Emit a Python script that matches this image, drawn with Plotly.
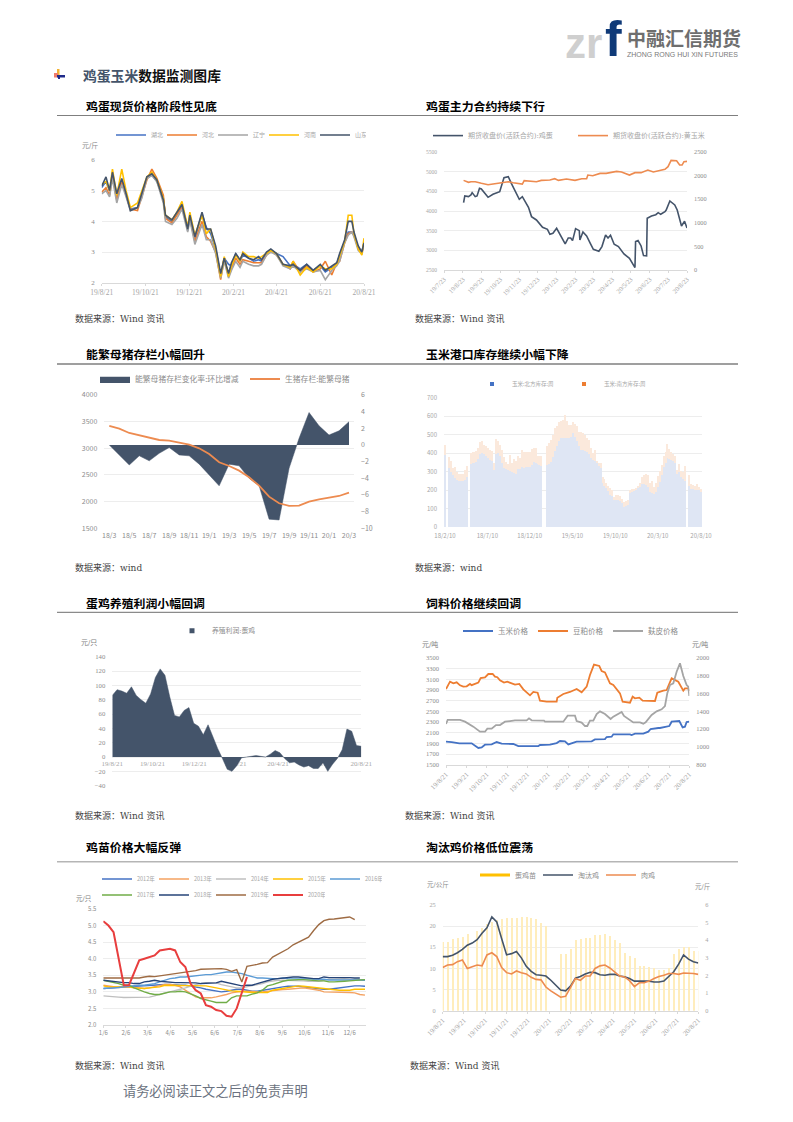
import plotly.graph_objects as go

W, H = 793, 1122
def fx(x): return x / W
def fy(y): return 1 - y / H

# ---------- chart 1: spot egg prices ----------
c1_days = [0,6,11,15,21,28,34,40,50,56,63,70,77,86,89,98,105,112,120,123,130,140,146,152,159,166,171,177,181,187,193,197,205,212,219,223,230,236,244,253,263,267,277,286,295,305,312,321,328,332,339,344,349,352,358,363,366]
c1_ticks = [0,61,122,184,244,305,366]
c1_labels = ["19/8/21","19/10/21","19/12/21","20/2/21","20/4/21","20/6/21","20/8/21"]
c1_hubei = [5.1,5.3,5.0,5.5,4.8,5.35,4.85,4.4,4.45,4.9,5.4,5.5,5.3,4.75,4.15,4.0,4.25,4.5,3.7,4.15,3.45,4.25,3.8,3.6,3.1,2.25,2.8,2.6,2.55,2.95,2.7,2.9,2.8,2.7,2.75,2.7,2.95,3.05,2.95,2.85,2.55,2.6,2.45,2.6,2.4,2.55,2.35,2.5,2.6,2.9,3.35,3.65,3.65,3.55,3.15,3.0,3.3]
c1_hebei = [4.95,5.1,4.85,5.5,4.7,5.3,4.85,4.4,4.35,4.85,5.35,5.7,5.4,4.85,4.1,3.95,4.2,4.45,3.85,4.1,3.35,4.0,3.5,3.35,3.0,2.1,2.8,2.2,2.45,2.8,2.6,2.75,2.7,2.65,2.65,2.65,2.9,3.05,2.9,2.6,2.45,2.7,2.35,2.55,2.35,2.45,2.7,2.25,2.65,2.7,3.3,3.6,3.65,3.55,3.1,2.95,3.3]
c1_liaoning = [4.9,5.0,4.8,5.4,4.6,5.2,4.8,4.35,4.45,4.75,5.4,5.5,5.3,4.6,4.0,3.9,4.1,4.4,3.65,4.05,3.25,3.9,3.4,3.4,2.95,2.15,2.7,2.15,2.4,2.7,2.5,2.7,2.6,2.55,2.55,2.6,2.9,3.0,2.9,2.55,2.45,2.55,2.35,2.45,2.35,2.4,2.1,2.4,2.55,2.7,3.3,3.55,3.65,3.5,3.05,2.95,3.25]
c1_henan = [5.2,5.3,5.0,5.7,4.85,5.7,5.0,4.45,4.6,5.0,5.45,5.6,5.35,4.75,4.2,4.05,4.3,4.65,3.8,4.3,3.55,4.2,3.6,3.75,3.1,2.2,2.85,2.2,2.55,2.9,2.7,3.0,2.85,2.85,2.8,2.85,2.95,3.05,2.95,2.6,2.5,2.7,2.25,2.5,2.35,2.55,2.45,2.45,2.6,2.9,3.35,4.2,4.2,3.6,3.1,2.9,3.45]
c1_shandong = [5.15,5.45,5.0,5.6,4.9,5.4,4.9,4.35,4.45,4.9,5.45,5.55,5.35,4.7,4.2,4.05,4.3,4.55,3.75,4.2,3.5,4.3,3.75,3.75,3.2,2.3,2.8,2.3,2.65,2.95,2.75,2.95,2.8,2.75,2.85,2.75,3.0,3.1,2.95,2.6,2.55,2.6,2.4,2.6,2.4,2.6,2.4,2.55,2.65,2.95,3.4,4.0,4.0,3.65,3.2,3.0,3.3]

# ---------- chart 2: futures ----------
c2_egg_days = [32,34,40,44,46,51,54,58,61,67,72,80,86,91,98,105,110,116,123,128,138,143,151,161,169,173,178,184,195,198,203,207,210,215,221,222,227,233,239,244,253,258,264,268,272,278,285,294,303,312,313,317,322,326,331,332,339,346,350,354,361,363,369,377,381,388,393,397]
c2_egg = [4213,4382,4365,4407,4467,4365,4382,4577,4560,4450,4348,4424,4467,4492,4848,4873,4704,4517,4297,4365,4094,3857,3772,3586,3535,3408,3433,3560,3247,3162,3315,3315,3247,3552,3501,3264,3467,3365,3179,3027,2976,3095,3391,3315,3382,3154,3095,2908,2798,2561,3222,3247,3111,2866,2857,3814,3873,3907,3958,3916,3984,4026,4255,4153,4026,3620,3738,3569]
c2_corn_days = [32,40,44,51,61,72,83,97,105,113,121,128,131,143,151,159,173,181,187,200,214,225,233,235,243,255,265,282,290,303,312,322,333,342,352,361,366,371,380,385,389,392,397]
c2_corn = [1899,1857,1871,1871,1836,1807,1829,1864,1871,1850,1836,1821,1892,1885,1871,1899,1906,1934,1899,1927,1899,1934,1934,2012,1998,2047,2047,2090,2076,2012,2062,2062,2118,2076,2104,2132,2189,2323,2316,2224,2224,2295,2302]
c2_ticks = [0,31,62,92,123,153,184,215,244,275,305,336,366,397]
c2_labels = ["19/7/23","19/8/23","19/9/23","19/10/23","19/11/23","19/12/23","20/1/23","20/2/23","20/3/23","20/4/23","20/5/23","20/6/23","20/7/23","20/8/23"]

# ---------- chart 3: sows ----------
c3_months = ["18/3","18/4","18/5","18/6","18/7","18/8","18/9","18/10","18/11","18/12","19/1","19/2","19/3","19/4","19/5","19/6","19/7","19/8","19/9","19/10","19/11","19/12","20/1","20/2","20/3"]
c3_change = [0,-1.2,-2.4,-1.3,-1.9,-1.0,-0.3,-1.2,-1.3,-2.3,-3.6,-4.9,-2.3,-2.5,-4.0,-4.9,-8.9,-9.0,-2.8,0.8,3.9,2.3,1.2,1.7,2.8]
c3_stock = [3419,3369,3288,3244,3188,3156,3144,3106,3069,3000,2894,2738,2669,2581,2456,2300,2094,1969,1919,1925,2000,2044,2069,2106,2169]

# ---------- chart 4: corn port stocks (weekly) ----------
c4_total = [445,0,378,358,322,328,300,290,288,288,310,330,0,400,408,405,412,430,462,465,445,440,430,420,410,345,478,465,445,415,380,355,340,390,350,370,360,385,375,415,405,405,405,408,425,430,430,385,385,385,0,0,440,455,470,500,535,545,570,575,580,605,575,555,555,570,560,545,515,515,510,500,480,470,430,400,420,360,345,345,270,260,240,225,210,200,165,175,175,170,155,135,140,145,200,205,205,210,225,240,270,285,290,285,240,250,215,240,275,305,335,385,405,450,425,405,395,385,310,340,305,300,330,0,280,235,230,225,235,220,205]
c4_north = [390,0,320,300,285,265,255,248,248,252,258,272,0,340,345,350,355,370,395,400,395,385,375,365,360,310,395,400,385,345,320,315,310,305,300,295,290,315,315,325,320,325,325,325,335,355,350,340,335,330,0,0,335,340,355,380,410,440,465,480,485,485,485,485,490,510,490,465,440,420,415,410,405,395,375,365,360,350,335,320,240,225,210,195,175,170,150,150,150,140,130,110,115,120,185,195,200,205,210,220,235,235,230,215,190,185,180,190,215,245,285,325,350,375,370,365,360,350,290,300,270,260,250,0,225,205,205,200,200,200,195]
c4_south = [t - n for t, n in zip(c4_total, c4_north)]
c4_ticks = [0,21.5,43,64.7,86.5,108,130]
c4_labels = ["18/2/10","18/7/10","18/12/10","19/5/10","19/10/10","20/3/10","20/8/10"]

# ---------- chart 5: layer profit (weekly) ----------
c5_profit = [86,94,92,89,98,86,80,75,88,111,123,114,84,58,56,65,69,47,43,31,45,28,12,-2,-17,-20,-12,-1,0,2,2,1,0,4,9,6,-2,-8,-7,-11,-14,-12,-16,-16,-8,-20,-10,-2,10,39,36,16,15]
c5_ticks = [0,8.4,17.1,25.8,34.6,43.4,52]
c5_labels = c1_labels

# ---------- chart 6: feed ----------
c6_corn_days = [0,8.5,20,38.5,48.5,53.5,58.5,68.5,76,83.5,101,108.5,138.5,141,156,166,171,178.5,183.5,196,218.5,223.5,238.5,241,248.5,251,276,278.5,283.5,296,303.5,307,318.5,321,335,338.5,350,355,358.5,361,365]
c6_corn = [1931,1925,1900,1900,1813,1825,1875,1881,1925,1894,1888,1850,1850,1869,1875,1906,1944,1938,1881,1931,1938,1975,1981,2019,2025,2069,2069,2056,2081,2081,2119,2169,2188,2188,2225,2306,2319,2200,2213,2300,2306]
c6_soy_days = [0,6,11,16,21,26,31,36,38.5,48.5,52,58.5,63.5,70,73.5,77,81,87,92,103.5,110,116,126,131,137.5,141,151,166,167,176,186,196,203.5,211,216,222,230,233.5,238.5,246,251,261,265,276,280,283.5,290,295,313.5,317,326,331,338.5,348.5,356,358.5,363.5,365]
c6_soy = [2919,3056,3025,3044,2988,2963,2969,3013,2990,3038,3125,3138,3200,3200,3150,3140,3081,3038,3056,3000,3013,2913,2800,2863,2850,2700,2681,2681,2756,2825,2863,2919,2856,2963,3181,3375,3350,3256,3231,3025,2994,2838,2681,2663,2775,2744,2756,2700,2694,2850,2888,2900,3119,3056,2888,2931,2931,2881]
c6_bran_days = [0,2.5,21,28.5,41,51,58.5,62,68.5,75,81,88.5,96,103.5,121,124.5,128.5,147,148.5,176,182.5,193.5,196,203.5,208.5,212,216,221,226,231,238.5,247,251,263.5,267,281,291,296,299.5,308.5,316,323.5,328.5,332,336,341,346,351,356,361,363.5,365]
c6_bran = [1258,1303,1303,1284,1228,1171,1171,1205,1205,1246,1246,1284,1291,1299,1299,1321,1299,1295,1284,1284,1351,1351,1291,1273,1235,1235,1295,1295,1370,1400,1370,1314,1340,1393,1348,1276,1276,1261,1276,1359,1400,1423,1460,1603,1696,1715,1846,1940,1798,1696,1678,1573]
c6_ticks = [0,31,61,92,122,153,184,214,243,274,304,335,365]
c6_labels = ["19/8/21","19/9/21","19/10/21","19/11/21","19/12/21","20/1/21","20/2/21","20/3/21","20/4/21","20/5/21","20/6/21","20/7/21","20/8/21"]

# ---------- chart 7: chick prices by year (weekly) ----------
c7_ticks = [0,4.4,8.6,13,17.4,21.7,26.1,30.5,34.9,39.2,43.8,48]
c7_labels = ["1/6","2/6","3/6","4/6","5/6","6/6","7/6","8/6","9/6","10/6","11/6","12/6"]
c7_2012 = [3.1,3.1,3.12,3.14,3.15,3.17,3.18,3.18,3.18,3.2,3.2,3.22,3.22,3.22,3.2,3.2,3.2,3.18,3.15,3.12,3.08,3.05,3.02,3.0,3.02,3.05,3.08,3.08,3.05,3.02,3.02,3.05,3.08,3.1,3.12,3.15,3.17,3.18,3.17,3.15,3.13,3.12,3.1,3.08,3.08,3.1,3.12,3.15,3.17,3.18,3.18,3.17]
c7_2013 = [3.2,3.18,3.15,3.13,3.15,3.15,3.13,3.12,3.1,3.12,3.15,3.2,3.22,3.22,3.2,3.15,3.05,2.95,2.85,2.82,2.82,2.82,2.85,2.88,2.92,2.97,3.0,3.02,3.02,3.0,3.0,3.0,3.02,3.05,3.07,3.07,3.08,3.1,3.1,3.12,3.1,3.08,3.05,3.0,3.0,2.99,2.98,2.98,2.98,2.97,2.92,2.9]
c7_2014 = [2.88,2.86,2.84,2.84,2.83,2.83,2.82,2.82,2.82,2.84,2.88,2.93,2.97,3.0,3.03,3.08,3.12,3.18,3.22,3.25,3.28,3.28,3.27,3.22,3.18,3.15,3.12,3.12,3.15,3.18,3.2,3.25,3.3,3.33,3.35,3.35,3.35,3.35,3.35,3.33,3.32,3.32,3.32,3.35,3.38,3.38,3.4,3.4,3.38,3.38,3.37,3.35]
c7_2015 = [3.18,3.15,3.15,3.15,3.15,3.15,3.12,3.1,3.1,3.12,3.13,3.15,3.2,3.2,3.2,3.2,3.18,3.18,3.2,3.2,3.18,3.15,3.12,3.08,3.05,3.03,3.02,3.0,3.0,2.98,2.98,2.98,2.98,3.05,3.08,3.1,3.12,3.15,3.18,3.17,3.15,3.15,3.13,3.1,3.08,3.05,3.05,3.05,3.05,3.08,3.08,3.08]
c7_2016 = [3.1,3.1,3.12,3.13,3.15,3.17,3.18,3.2,3.2,3.22,3.25,3.3,3.35,3.4,3.42,3.45,3.45,3.47,3.5,3.52,3.52,3.52,3.55,3.57,3.6,3.6,3.58,3.55,3.5,3.45,3.42,3.42,3.4,3.4,3.4,3.42,3.4,3.4,3.4,3.4,3.38,3.38,3.38,3.38,3.36,3.36,3.38,3.38,3.38,3.36,3.36,3.35]
c7_2017 = [3.35,3.32,3.3,3.25,3.2,3.2,3.12,3.05,3.0,2.95,2.92,2.92,2.97,3.0,3.0,3.02,3.0,2.95,2.88,2.8,2.75,2.72,2.68,2.67,2.68,2.82,2.88,2.88,2.88,2.93,2.97,3.05,3.18,3.22,3.28,3.32,3.35,3.37,3.37,3.37,3.35,3.35,3.33,3.33,3.3,3.3,3.3,3.32,3.33,3.35,3.37,3.37]
c7_2018 = [3.35,3.33,3.33,3.3,3.28,3.28,3.25,3.25,3.3,3.32,3.35,3.32,3.3,3.3,3.28,3.28,3.28,3.27,3.27,3.25,3.25,3.27,3.27,3.32,3.28,3.25,3.2,3.18,3.2,3.2,3.25,3.3,3.35,3.38,3.4,3.42,3.45,3.45,3.45,3.43,3.42,3.4,3.4,3.45,3.43,3.43,3.45,3.45,3.43,3.42,3.42]
c7_2019 = [3.42,3.42,3.41,3.41,3.4,3.41,3.42,3.42,3.45,3.47,3.46,3.48,3.5,3.52,3.55,3.57,3.59,3.61,3.64,3.68,3.69,3.7,3.7,3.7,3.68,3.62,3.67,3.3,3.77,3.79,3.83,3.87,3.88,4.05,4.13,4.2,4.3,4.42,4.5,4.57,4.65,4.85,5.03,5.15,5.19,5.2,5.22,5.26,5.26,5.18]
c7_2020 = [5.13,5.0,4.8,4.0,3.2,3.2,3.55,3.95,4.0,4.05,4.1,4.25,4.28,4.3,4.25,3.9,3.75,3.25,3.05,2.95,2.6,2.55,2.45,2.42,2.28,2.25,2.5,3.0,3.45]

# ---------- chart 8: culled hens (weekly) ----------
c8_chick = [3.9,3.9,4.05,4.15,4.2,4.35,None,4.55,4.7,4.9,5.05,5.15,5.2,5.25,5.25,5.27,5.3,5.3,5.25,5.2,5.0,4.8,None,None,3.2,3.2,3.5,4.0,4.05,4.1,4.15,4.3,4.3,4.35,4.25,4.0,3.85,3.3,3.1,3.0,2.55,2.55,2.5,2.4,2.3,2.3,2.4,3.2,3.5,3.6,3.6,3.4,3.4]
c8_culled = [12.8,12.8,13.1,13.7,14.5,15.5,16.0,16.8,18.3,19.6,22.2,21.0,17.0,13.2,13.5,14.0,12.5,10.5,9.3,8.5,8.4,8.2,7.2,6.0,4.9,4.7,5.8,7.7,8.1,8.7,9.1,9.0,8.5,8.4,8.6,8.6,8.2,8.0,7.6,7.0,7.0,7.1,7.0,6.8,6.8,7.0,8.0,9.2,11.0,13.2,12.2,11.6,11.3]
c8_broiler = [10.2,10.8,10.9,11.6,12.0,10.0,10.4,10.8,10.6,13.2,13.7,12.8,10.2,9.0,8.7,9.4,9.0,8.7,7.9,7.4,7.3,5.6,4.7,3.9,3.2,3.4,5.5,7.6,7.2,8.2,8.2,10.0,10.6,10.8,10.1,9.2,8.2,8.0,7.1,5.7,6.6,6.6,7.0,7.6,8.1,8.4,8.8,8.8,8.6,8.9,8.9,8.8,8.6]
c8_ticks = [0,4.33,8.67,13,17.33,21.67,26,30.33,34.67,39,43.33,47.67,52]
c8_labels = c6_labels

# ---------- page texts ----------
row_titles = [(85,105,"鸡蛋现货价格阶段性见底"),(425,105,"鸡蛋主力合约持续下行"),
              (85,353.5,"能繁母猪存栏小幅回升"),(425,353.5,"玉米港口库存继续小幅下降"),
              (85,602,"蛋鸡养殖利润小幅回调"),(425,602,"饲料价格继续回调"),
              (85,846.5,"鸡苗价格大幅反弹"),(425,846.5,"淘汰鸡价格低位震荡")]
sources = [(74,318.5,"数据来源：Wind 资讯"),(414,318.5,"数据来源：Wind 资讯"),
           (74,567,"数据来源：wind"),(414,567,"数据来源：wind"),
           (74,815.5,"数据来源：Wind 资讯"),(404,815.5,"数据来源：Wind 资讯"),
           (74,1065,"数据来源：Wind 资讯"),(409,1065,"数据来源：Wind 资讯")]
units = [(90,145,"元/斤",7,"#8c8c8c"),(89,643,"元/只",7,"#7f7f7f"),(430,644,"元/吨",7,"#7f7f7f"),(700,644,"元/吨",7,"#7f7f7f"),
         (84,899,"元/只",6.5,"#7f7f7f"),(438,884,"元/公斤",6.5,"#8c8c8c"),(703,886,"元/斤",6.5,"#8c8c8c")]

SERIF = "DejaVu Serif, Noto Sans CJK SC"
LSERIF = "Liberation Serif, Noto Sans CJK SC"
SANS = "Noto Sans CJK SC, Liberation Sans"
CN_BLUE, CN_ORANGE, CN_GRAY, CN_YEL, DARK = "#4472C4", "#ED7D31", "#A5A5A5", "#FFC000", "#44546A"
GRID = "#EDEDED"
TICKC = "#a6a6a6"

fig = go.Figure()
layout = {}
shapes, annos = [], []

def txt(x, y, text, size, color="#000", family=SANS, anchor="left", **kw):
    annos.append(dict(x=fx(x), y=fy(y), xref="paper", yref="paper", text=text, showarrow=False,
                      xanchor=anchor, yanchor="middle", font=dict(size=size, color=color, family=family),
                      borderpad=0, **kw))

def xax(n, rect, rng, ticks, labels, size=7, fam=LSERIF, angle=0, color=TICKC, **kw):
    d = dict(domain=[fx(rect[0]), fx(rect[1])], range=rng, tickmode="array", tickvals=ticks, ticktext=labels,
             tickangle=angle, showgrid=False, zeroline=False, showline=True, linecolor="#d9d9d9", linewidth=1,
             ticks="outside", ticklen=2, tickcolor="#d9d9d9",
             tickfont=dict(size=size, family=fam, color=color), fixedrange=True)
    d.update(kw)
    layout[f"xaxis{n}"] = d

def yax(key, rect, rng, dtick, size=6.5, fam=LSERIF, side="left", grid=True, color=TICKC, standoff=6, **kw):
    d = dict(domain=[fy(rect[3]), fy(rect[2])], range=rng, dtick=dtick, tick0=rng[0], side=side, showgrid=grid, gridcolor=GRID,
             gridwidth=1, zeroline=False, showline=False, ticks="", ticklabelstandoff=standoff,
             tickfont=dict(size=size, family=fam, color=color), fixedrange=True)
    d.update(kw)
    layout[key] = d

def legend(name, x, y, entry, size=6.5, fam=SERIF, color="#a6a6a6"):
    layout[name] = dict(orientation="h", x=fx(x), y=fy(y), xanchor="left", yanchor="middle",
                        xref="paper", yref="paper", bgcolor="rgba(0,0,0,0)", itemwidth=30,
                        entrywidth=entry, entrywidthmode="pixels", tracegroupgap=0, traceorder="normal",
                        font=dict(size=size, family=fam, color=color),
                        itemclick=False, itemdoubleclick=False)

def line(x, y, name, color, xa, ya, leg, w=1.6):
    fig.add_trace(go.Scatter(x=x, y=y, name=name, mode="lines", line=dict(color=color, width=w),
                             xaxis=xa, yaxis=ya, legend=leg, hoverinfo="skip"))

def key_marker(name, color, xa, ya, leg, size=4):
    # legend-only key: the legend's own swatch for a bar or area is much bigger than the reference's dot
    fig.add_trace(go.Scatter(x=[None], y=[None], name=name, mode="markers",
                             marker=dict(symbol="square", size=size, color=color),
                             xaxis=xa, yaxis=ya, legend=leg, hoverinfo="skip"))

# chart 1
r = (101.7,364,160,282.7)
xax(1, r, [0,366], c1_ticks, c1_labels, size=7.5, anchor="y")
yax("yaxis", r, [2,6], 1, anchor="x", size=7, color="#8c8c8c")
legend("legend", 111, 135, 6, size=6)
for nm, v, c in [("湖北",c1_hubei,CN_BLUE),("河北",c1_hebei,CN_ORANGE),("辽宁",c1_liaoning,CN_GRAY),("河南",c1_henan,CN_YEL),("山东",c1_shandong,DARK)]:
    line(c1_days, v, nm, c, "x", "y", "legend", 1.6)

# chart 2
r = (444,687,152,270)
xax(2, r, [0,397], c2_ticks, c2_labels, angle=-45, size=6.5, anchor="y2")
yax("yaxis2", r, [2500,5500], 500, size=5.5, anchor="x2")
yax("yaxis3", r, [0,2500], 500, size=6.3, side="right", grid=False, anchor="x2", overlaying="y2", color="#8c8c8c")
legend("legend2", 428, 135.6, 100, size=7)
line(c2_egg_days, c2_egg, "期货收盘价(活跃合约):鸡蛋", DARK, "x2", "y2", "legend2", 1.6)
line(c2_corn_days, c2_corn, "期货收盘价(活跃合约):黄玉米", "#ED8B50", "x2", "y3", "legend2", 1.6)

# chart 3: primary (right-hand) axis carries the area so the line stays on top
r = (104.3,354,395,528.3)
xax(3, r, [-0.5,24.5], list(range(0,25,2)), c3_months[::2], size=7, fam=SANS, anchor="y4", ticklen=0, color="#8c8c8c", showline=False)
yax("yaxis4", r, [-10,6], 2, size=7, fam=SANS, side="right", anchor="x3", grid=False, color="#8c8c8c")
yax("yaxis5", r, [1500,4000], 500, size=7, fam=SANS, anchor="x3", overlaying="y4", color="#8c8c8c")
legend("legend3", 95, 379, 105, size=7.8, fam=SANS, color="#8c8c8c")
fig.add_trace(go.Scatter(x=list(range(25)), y=c3_change, name="能繁母猪存栏变化率:环比增减", mode="lines", fill="tozeroy",
                         fillcolor=DARK, line=dict(color=DARK, width=0.5), xaxis="x3", yaxis="y4", legend="legend3", hoverinfo="skip"))
line(list(range(25)), c3_stock, "生猪存栏:能繁母猪", "#ED8B50", "x3", "y5", "legend3", 1.8)

# chart 4
r = (444,702,397.7,527.3)
xax(4, r, [-0.5,130.5], c4_ticks, c4_labels, size=6, fam=SANS, anchor="y6", ticklen=0, showline=False, ticklabelstandoff=2)
yax("yaxis6", r, [0,700], 100, size=6, fam=SANS, anchor="x4")
legend("legend4", 472, 384, 47, size=5.5, fam=SANS)
wk = list(range(131))
fig.add_trace(go.Bar(x=wk, y=c4_north, width=0.55, name="玉米:北方库存:周", showlegend=False, marker=dict(color="#DFE6F4", line_width=0), xaxis="x4", yaxis="y6", hoverinfo="skip"))
fig.add_trace(go.Bar(x=wk, y=c4_south, width=0.55, name="玉米:南方库存:周", showlegend=False, marker=dict(color="#FBE9DC", line_width=0), xaxis="x4", yaxis="y6", hoverinfo="skip"))
key_marker("玉米:北方库存:周", CN_BLUE, "x4", "y6", "legend4")
key_marker("玉米:南方库存:周", CN_ORANGE, "x4", "y6", "legend4")

# chart 5: tick labels sit at the zero line, behind the area
r = (112.3,361.3,656.7,785.7)
xax(5, r, [0,52], c5_ticks, c5_labels, size=7, anchor="free", position=fy(756.7), layer="below traces", ticklen=0, showline=False)
yax("yaxis7", r, [-40,140], 20, size=6.7, anchor="x5", color="#8c8c8c")
legend("legend5", 172, 630.7, 50, size=6.8, color="#8c8c8c")
fig.add_trace(go.Scatter(x=list(range(53)), y=c5_profit, name="养殖利润:蛋鸡", showlegend=False, mode="lines", fill="tozeroy", fillcolor=DARK,
                         line=dict(color=DARK, width=0.5), xaxis="x5", yaxis="y7", hoverinfo="skip"))
key_marker("养殖利润:蛋鸡", DARK, "x5", "y7", "legend5", size=5)

# chart 6
r = (446,689.3,658,764.7)
xax(6, r, [0,365], c6_ticks, c6_labels, angle=-45, size=7, anchor="y8")
yax("yaxis8", r, [1500,3500], 200, size=6.5, anchor="x6", color="#8c8c8c")
yax("yaxis9", r, [800,2000], 200, size=6.5, side="right", grid=False, anchor="x6", overlaying="y8", color="#8c8c8c")
legend("legend6", 458, 631, 30, size=7.5, color="#8c8c8c")
line(c6_corn_days, c6_corn, "玉米价格", CN_BLUE, "x6", "y8", "legend6", 1.8)
line(c6_soy_days, c6_soy, "豆粕价格", CN_ORANGE, "x6", "y8", "legend6", 1.8)
line(c6_bran_days, c6_bran, "麸皮价格", CN_GRAY, "x6", "y9", "legend6", 1.8)

# chart 7
r = (103.3,366,909,1025)
xax(7, r, [0,51.2], c7_ticks, c7_labels, size=6, fam=SANS, anchor="y10", color="#8c8c8c")
yax("yaxis10", r, [2,5.5], 0.5, size=6, fam=SANS, anchor="x7", color="#8c8c8c", tickformat=".1f")
legend("legend7", 97, 879, 12, size=5.5, fam=SANS)
legend("legend8", 97, 895, 12, size=5.5, fam=SANS)
for nm, v, c, lg in [("2012年",c7_2012,CN_BLUE,"legend7"),("2013年",c7_2013,"#F4A261","legend7"),("2014年",c7_2014,"#BFBFBF","legend7"),
                     ("2015年",c7_2015,CN_YEL,"legend7"),("2016年",c7_2016,"#5B9BD5","legend7"),("2017年",c7_2017,"#70AD47","legend8"),
                     ("2018年",c7_2018,"#264478","legend8"),("2019年",c7_2019,"#9E6B43","legend8"),("2020年",c7_2020,"#E83E3E","legend8")]:
    line(list(range(len(v))), v, nm, c, "x7", "y10", lg, 2.0 if nm == "2020年" else 1.4)

# chart 8: bars on primary (right) axis, lines overlay
r = (442.7,698.3,905,1010.7)
xax(8, r, [0,52], c8_ticks, c8_labels, angle=-45, size=7, anchor="y11")
yax("yaxis11", r, [0,6], 1, size=6.3, side="right", grid=False, anchor="x8")
yax("yaxis12", r, [0,25], 5, size=6.3, anchor="x8", overlaying="y11")
legend("legend9", 475, 875, 18, size=7, color="#8c8c8c")
fig.add_trace(go.Bar(x=list(range(53)), y=c8_chick, width=0.22, name="蛋鸡苗", showlegend=False, marker=dict(color="#FFEDBC", line_width=0),
                     xaxis="x8", yaxis="y11", hoverinfo="skip"))
fig.add_trace(go.Scatter(x=[None], y=[None], name="蛋鸡苗", mode="lines", line=dict(color=CN_YEL, width=3),
                         xaxis="x8", yaxis="y12", legend="legend9", hoverinfo="skip"))
line(list(range(53)), c8_culled, "淘汰鸡", DARK, "x8", "y12", "legend9", 1.6)
line(list(range(53)), c8_broiler, "肉鸡", "#ED8B50", "x8", "y12", "legend9", 1.6)

# page furniture
for (x0, x1, y, c, w) in [(57,400,115.5,"#7f7f7f",1),(400,738,115.5,"#7f7f7f",1),(57,400,364,"#7f7f7f",1.4),(400,738,364,"#7f7f7f",1.4),
                          (57,400,612.3,"#6f6f6f",1),(400,738,612.3,"#6f6f6f",1),(57,400,861.7,"#b5b5b5",1.6),(400,738,861.7,"#b5b5b5",1.6)]:
    shapes.append(dict(type="line", xref="paper", yref="paper", x0=fx(x0), x1=fx(x1), y0=fy(y), y1=fy(y), line=dict(color=c, width=w)))
for (x0, y0, x1, y1, c) in [(57,69,59.5,75,"#F2B233"),(54,73,58,77.5,"#F07C6A"),(57,75,65,77.5,"#1F2A8A"),(58,75,60,79,"#1F2A8A")]:
    shapes.append(dict(type="rect", xref="paper", yref="paper", x0=fx(x0), x1=fx(x1), y0=fy(y0), y1=fy(y1), fillcolor=c, line_width=0))

txt(82, 75, '<b><span style="color:#44546A">鸡蛋玉米</span>数据监测图库</b>', 13.8, "#111")
for x, y, t in row_titles:
    txt(x, y, f"<b>{t}</b>", 11.9, "#000")
for x, y, t in sources:
    txt(x, y, t, 9, "#444", SERIF)
for x, y, t, s, c in units:
    txt(x, y, t, s, c, SERIF, anchor="center")
txt(122, 1091.5, "请务必阅读正文之后的免责声明", 13.2, "#6b7280", SERIF)

# logo
txt(564, 44, "<b>zr</b>", 42, "#cfcfcf", "Liberation Sans")
txt(604, 39, "<b>f</b>", 50, "#0F3A78", "Liberation Sans")
txt(626, 37.5, "<b>中融汇信期货</b>", 19, "#6e6e6e")
txt(626, 54.5, "ZHONG RONG HUI XIN FUTURES", 7, "#7a7a7a", "Liberation Sans")

fig.update_layout(width=W, height=H, margin=dict(l=0, r=0, t=0, b=0, autoexpand=False),
                  paper_bgcolor="white", plot_bgcolor="rgba(0,0,0,0)", barmode="stack",
                  shapes=shapes, annotations=annos, hovermode=False, showlegend=True, **layout)
fig.write_html("out.html", post_script="document.body.style.margin='0';", config=dict(displayModeBar=False))
